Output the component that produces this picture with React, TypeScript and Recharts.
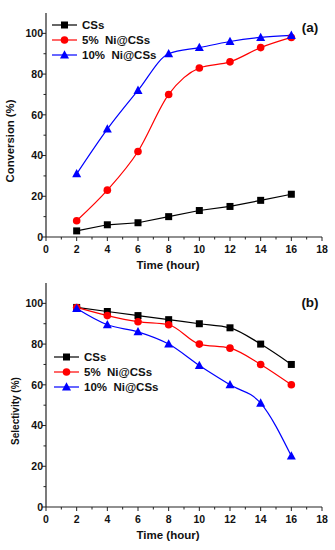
import React from 'react';
import { LineChart, Line, XAxis, YAxis, Legend } from 'recharts';

const hours = [2, 4, 6, 8, 10, 12, 14, 16];
const convCSs = [3, 6, 7, 10, 13, 15, 18, 21];
const conv5 = [8, 23, 42, 70, 83, 86, 93, 98];
const conv10 = [31, 53, 72, 90, 93, 96, 98, 99];
const selCSs = [98, 96, 94, 92, 90, 88, 80, 70];
const sel5 = [98, 94, 91, 89.5, 80, 78, 70, 60];
const sel10 = [97.5, 89.5, 86, 80, 69.5, 60, 51, 25];
const seriesNames = ['CSs', '5% Ni@CSs', '10% Ni@CSs'];
const seriesColors = ['#000000', '#ff0000', '#0000ff'];
const xTicks = [0, 1, 2, 3, 4, 5, 6, 7, 8, 9, 10, 11, 12, 13, 14, 15, 16, 17, 18];
const yTicks = [0, 10, 20, 30, 40, 50, 60, 70, 80, 90, 100];

const dataA = hours.map((h, i) => ({ h, s0: convCSs[i], s1: conv5[i], s2: conv10[i] }));
const dataB = hours.map((h, i) => ({ h, s0: selCSs[i], s1: sel5[i], s2: sel10[i] }));

const FONT = '"Liberation Sans", Arial, sans-serif';

const Marker = ({ kind, cx, cy, color }: any) => {
  if (kind === 0) return <rect x={cx - 3.5} y={cy - 3.5} width={7} height={7} fill={color} />;
  if (kind === 1) return <circle cx={cx} cy={cy} r={3.8} fill={color} />;
  return <polygon points={`${cx},${cy - 4.8} ${cx - 4.5},${cy + 3.5} ${cx + 4.5},${cy + 3.5}`} fill={color} />;
};

const makeDot = (kind: number) => (p: any) => (
  <Marker key={`d${kind}-${p.index}`} kind={kind} cx={p.cx} cy={p.cy} color={seriesColors[kind]} />
);

const XTick = (props: any) => {
  const { x, y, payload } = props;
  const major = payload.value % 2 === 0;
  return (
    <g>
      <line x1={x} x2={x} y1={y} y2={y + (major ? 4 : 2.5)} stroke="#222" strokeWidth={1} />
      {major && (
        <text x={x} y={y + 15.5} textAnchor="middle" fontSize={10.5} fontWeight="bold" fill="#111" fontFamily={FONT}>
          {payload.value}
        </text>
      )}
    </g>
  );
};

const YTick = (props: any) => {
  const { x, y, payload } = props;
  const major = payload.value % 20 === 0;
  return (
    <g>
      <line x1={x - (major ? 4 : 2.5)} x2={x} y1={y} y2={y} stroke="#222" strokeWidth={1} />
      {major && (
        <text x={x - 3} y={y + 3.7} textAnchor="end" fontSize={10.5} fontWeight="bold" fill="#111" fontFamily={FONT}>
          {payload.value}
        </text>
      )}
    </g>
  );
};

const LegendBox = ({ rowH }: any) => (
  <div style={{ fontFamily: FONT }}>
    {seriesNames.map((n, i) => (
      <div key={n} style={{ display: 'flex', alignItems: 'center', height: rowH }}>
        <svg width={26} height={12} style={{ display: 'block' }}>
          <line x1={0} x2={25} y1={6} y2={6} stroke={seriesColors[i]} strokeWidth={1.2} />
          <Marker kind={i} cx={12.5} cy={6} color={seriesColors[i]} />
        </svg>
        <span style={{ marginLeft: 4, fontSize: 11.5, fontWeight: 'bold', color: '#111', whiteSpace: 'pre' }}>
          {n.replace('% ', '%  ')}
        </span>
      </div>
    ))}
  </div>
);

const Panel = ({ data, yLabel, yLabelSize, yLabelX, tag, tagTop, legendLeft, legendTop, height, lineTypes }: any) => (
  <LineChart width={335} height={height} data={data} margin={{ top: 13, right: 13, left: 0, bottom: 0 }}>
    <XAxis
      dataKey="h"
      type="number"
      domain={[0, 18]}
      ticks={xTicks}
      interval={0}
      tickSize={0}
      tickMargin={0}
      tickLine={false}
      tick={<XTick />}
      axisLine={{ stroke: '#222', strokeWidth: 1.2 }}
      height={height - 13 - 224}
      label={(p: any) => {
        const vb = p.viewBox;
        return (
          <text x={vb.x + vb.width / 2 - 16} y={vb.y + 32} textAnchor="middle" fontSize={11.5} fontWeight="bold" fill="#111" fontFamily={FONT}>
            Time (hour)
          </text>
        );
      }}
    />
    <XAxis xAxisId="top" orientation="top" type="number" domain={[0, 18]} height={0} tick={false} tickLine={false} axisLine={{ stroke: '#999' }} />
    <YAxis
      type="number"
      domain={[0, 110]}
      ticks={yTicks}
      interval={0}
      width={46}
      tickSize={0}
      tickMargin={0}
      tickLine={false}
      tick={<YTick />}
      axisLine={{ stroke: '#222', strokeWidth: 1.2 }}
      label={(p: any) => {
        const vb = p.viewBox;
        const cy = vb.y + vb.height / 2 + 16;
        return (
          <text x={yLabelX} y={cy} transform={`rotate(-90 ${yLabelX} ${cy})`} textAnchor="middle" dominantBaseline="central" fontSize={yLabelSize} fontWeight="bold" fill="#111" fontFamily={FONT}>
            {yLabel}
          </text>
        );
      }}
    />
    <YAxis yAxisId="r" orientation="right" type="number" domain={[0, 110]} width={0} tick={false} tickLine={false} axisLine={{ stroke: '#999' }} />
    <Legend
      layout="horizontal"
      verticalAlign="middle"
      align="center"
      content={() => <LegendBox rowH={15.3} />}
      wrapperStyle={{ position: 'absolute', left: legendLeft, top: legendTop, width: 'auto', bottom: 'auto' }}
    />
    {['s0', 's1', 's2'].map((k, i) => (
      <Line
        key={k}
        dataKey={k}
        type={lineTypes[i]}
        stroke={seriesColors[i]}
        strokeWidth={1.2}
        dot={makeDot(i)}
        activeDot={false}
        isAnimationActive={false}
        legendType="none"
      />
    ))}
    <text x={310} y={tagTop} textAnchor="middle" fontSize={13.5} fontWeight="bold" fill="#111" fontFamily={FONT}>
      {tag}
    </text>
  </LineChart>
);

export default function App() {
  return (
    <div style={{ position: 'absolute', left: 0, top: 0, width: 335, height: 550, background: '#fff' }}>
      <div style={{ position: 'absolute', left: 0, top: 0 }}>
        <Panel
          data={dataA}
          height={275}
          yLabel="Conversion (%)"
          yLabelSize={11.3}
          yLabelX={10}
          tag="(a)"
          tagTop={32}
          legendLeft={52}
          legendTop={17}
          lineTypes={['linear', 'monotone', 'monotone']}
        />
      </div>
      <div style={{ position: 'absolute', left: 0, top: 270 }}>
        <Panel
          data={dataB}
          height={280}
          yLabel="Selectivity (%)"
          yLabelSize={10}
          yLabelX={15}
          tag="(b)"
          tagTop={37}
          legendLeft={54}
          legendTop={79}
          lineTypes={['monotone', 'monotone', 'monotone']}
        />
      </div>
    </div>
  );
}
